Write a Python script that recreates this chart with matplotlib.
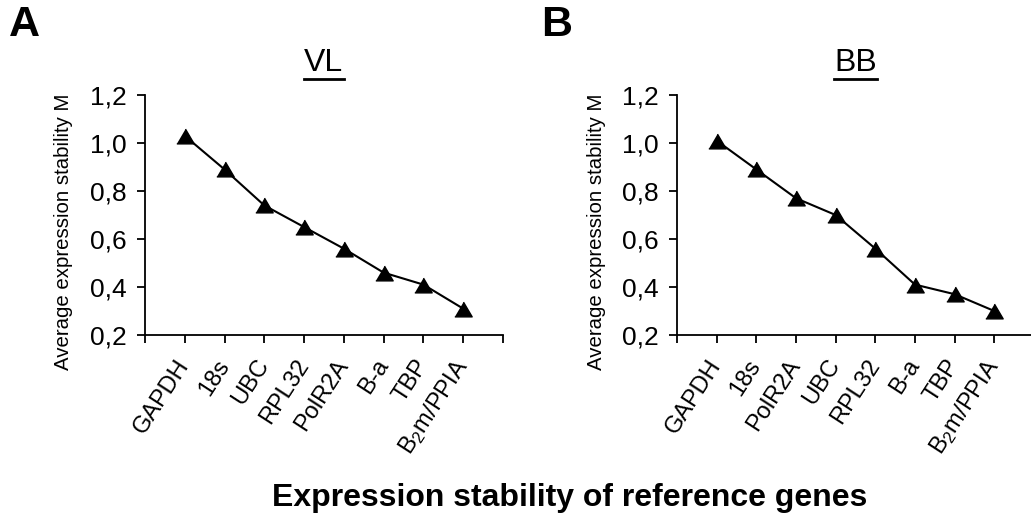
import numpy as np
import matplotlib
matplotlib.use("Agg")
import matplotlib.pyplot as plt
import matplotlib.transforms as mtransforms
from matplotlib.ticker import FuncFormatter
from matplotlib.lines import Line2D

plt.rcParams['font.family'] = ['Liberation Sans', 'DejaVu Sans']
plt.rcParams['mathtext.fontset'] = 'custom'
plt.rcParams['mathtext.rm'] = 'Liberation Sans'
plt.rcParams['mathtext.it'] = 'Liberation Sans:italic'
plt.rcParams['mathtext.bf'] = 'Liberation Sans:bold'

# data
genes_vl = ["GAPDH", "18s", "UBC", "RPL32", "PolR2A", "B-a", "TBP", r"B$_2$m/PPIA"]
m_vl = [1.03, 0.89, 0.74, 0.65, 0.56, 0.46, 0.41, 0.31]

genes_bb = ["GAPDH", "18s", "PolR2A", "UBC", "RPL32", "B-a", "TBP", r"B$_2$m/PPIA"]
m_bb = [1.01, 0.89, 0.77, 0.70, 0.56, 0.41, 0.37, 0.30]

panels = ["A", "B"]
titles = ["VL", "BB"]
y_ticks = [0.2, 0.4, 0.6, 0.8, 1.0, 1.2]

tri = [(-1, -0.85), (1, -0.85), (0, 0.85)]

fig = plt.figure(figsize=(10.31, 5.25), dpi=100)
ax_a = fig.add_axes([0.1406, 0.3619, 0.3472, 0.4571])
ax_b = fig.add_axes([0.6566, 0.3619, 0.3463, 0.4571])


def comma(v, pos):
    return "{0:.1f}".format(v).replace('.', ',')


shift = mtransforms.ScaledTranslation(6 / 100, 0, fig.dpi_scale_trans)

title_objs = []
for ax, genes, vals, title in [(ax_a, genes_vl, m_vl, titles[0]), (ax_b, genes_bb, m_bb, titles[1])]:
    x = np.arange(1, len(vals) + 1)
    ax.plot(x, vals, color="black", lw=1.5, marker=tri, markersize=12.5,
            markerfacecolor="black", markeredgecolor="black", clip_on=False)
    ax.set_xlim(0, len(vals) + 1)
    ax.set_ylim(0.2, 1.2)
    ax.set_xticks(np.arange(0, len(vals) + 2))
    ax.set_xticklabels([""] + genes + [""], rotation=57, ha="right", va="center",
                       rotation_mode="anchor", fontsize=17)
    for lab in ax.get_xticklabels():
        lab.set_transform(lab.get_transform() + shift)
    ax.set_yticks(y_ticks)
    ax.yaxis.set_major_formatter(FuncFormatter(comma))
    ax.tick_params(axis="y", direction="out", length=6, width=1.3, labelsize=19, pad=7)
    ax.tick_params(axis="x", direction="out", length=6, width=1.3, pad=13)
    for s in ["top", "right"]:
        ax.spines[s].set_visible(False)
    for s in ["left", "bottom"]:
        ax.spines[s].set_linewidth(1.3)
    ax.set_ylabel("Average expression stability M", fontsize=14.7)
    ax.yaxis.set_label_coords(-0.2, 0.43)
    title_objs.append(ax.set_title(title, fontsize=23, pad=17))

fig.text(0.009, 0.915, panels[0], fontsize=31, fontweight="bold", va="bottom", ha="left")
fig.text(0.525, 0.915, panels[1], fontsize=31, fontweight="bold", va="bottom", ha="left")

fig.text(0.553, 0.052, "Expression stability of reference genes", fontsize=23,
         fontweight="bold", ha="center", va="center")

# underline the panel titles
fig.canvas.draw()
renderer = fig.canvas.get_renderer()
for t in title_objs:
    bb = t.get_window_extent(renderer)
    inv = fig.transFigure.inverted()
    (x0, y0), (x1, y1) = inv.transform([(bb.x0, bb.y0 - 1), (bb.x1, bb.y0 - 1)])
    fig.add_artist(Line2D([x0, x1], [y0, y1], color="black", lw=2.0, transform=fig.transFigure))

fig.savefig("out.png", dpi=100)
